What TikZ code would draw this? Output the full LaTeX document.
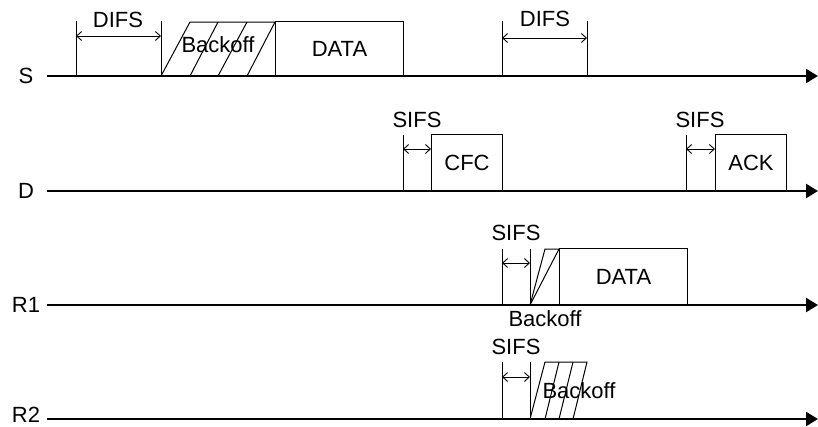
\documentclass[tikz,border=0pt]{standalone}
\usepackage{fontspec}
\setmainfont{Liberation Sans}
\usetikzlibrary{
  arrows.meta,
  positioning,
  calc
}
\definecolor{tdInk}{HTML}{000000}
\tikzset{
  tdtext/.style={font=\fontsize{22}{26}\selectfont, inner sep=0pt, text=tdInk},
  station/.style={tdtext},
  frame/.style={tdtext, draw=tdInk, line width=1pt, anchor=south west},
  timeaxis/.style={draw=tdInk, line width=2.4pt, -{Triangle[length=12pt, width=14pt]}},
  guide/.style={draw=tdInk, line width=1pt},
  span/.style={draw=tdInk, line width=0.9pt,
    {Straight Barb[length=5pt, width=9pt]}-{Straight Barb[length=5pt, width=9pt]}},
  hatch/.style={draw=tdInk, line width=1pt}
}

\begin{document}
\begin{tikzpicture}[x=1pt, y=-1pt]
  \useasboundingbox (0,0) rectangle (818,426);

  % stations and time axes
  \foreach \name/\y/\ly in {S/76/76, D/191/191, R1/305/305, R2/419/415} {
    \node[station] (\name) at (26,\ly) {\name};
    \coordinate (\name-in) at (47,\y);
    \coordinate (\name-out) at (818,\y);
    \draw[timeaxis] (\name-in) -- (\name-out);
  }

  % S: DIFS, backoff, DATA, DIFS
  \coordinate (difs1a) at (76,76);
  \coordinate (difs1b) at (161,76);
  \draw[guide] (difs1a) -- ++(0,-55);
  \draw[guide] (difs1b) -- ++(0,-55);
  \draw[span] ($(difs1a)+(0,-40)$) -- ($(difs1b)+(0,-40)$);
  \node[tdtext] (difs1) at (118,20) {DIFS};

  \draw[hatch] (difs1b) -- (190,22) -- (275,22);
  \draw[hatch] (190,76) -- (218,22);
  \draw[hatch] (218,76) -- (247,22);
  \draw[hatch] (247,76) -- (275,22);
  \node[tdtext] (backS) at (218,45) {Backoff};
  \node[frame, minimum width=128pt, minimum height=54pt] (dataS) at (275,76) {DATA};

  \coordinate (difs2a) at (502,76);
  \coordinate (difs2b) at (587,76);
  \draw[guide] (difs2a) -- ++(0,-55);
  \draw[guide] (difs2b) -- ++(0,-55);
  \draw[span] ($(difs2a)+(0,-38)$) -- ($(difs2b)+(0,-38)$);
  \node[tdtext] (difs2) at (545,19) {DIFS};

  % D: SIFS, CFC, SIFS, ACK
  \coordinate (sifs1a) at (403,191);
  \coordinate (sifs1b) at (431,191);
  \draw[guide] (sifs1a) -- ++(0,-56);
  \draw[guide] (sifs1b) -- ++(0,-56);
  \draw[span] ($(sifs1a)+(0,-42)$) -- ($(sifs1b)+(0,-42)$);
  \node[tdtext] (sifs1) at (417,120) {SIFS};
  \node[frame, minimum width=71pt, minimum height=56pt] (cfc) at (sifs1b) {CFC};

  \coordinate (sifs2a) at (686,191);
  \coordinate (sifs2b) at (715,191);
  \draw[guide] (sifs2a) -- ++(0,-56);
  \draw[guide] (sifs2b) -- ++(0,-56);
  \draw[span] ($(sifs2a)+(0,-42)$) -- ($(sifs2b)+(0,-42)$);
  \node[tdtext] (sifs2) at (700,120) {SIFS};
  \node[frame, minimum width=71pt, minimum height=56pt] (ack) at (sifs2b) {ACK};

  % R1: SIFS, backoff, DATA
  \coordinate (sifs3a) at (502,305);
  \coordinate (sifs3b) at (530,305);
  \draw[guide] (sifs3a) -- ++(0,-56);
  \draw[guide] (sifs3b) -- ++(0,-56);
  \draw[span] ($(sifs3a)+(0,-42)$) -- ($(sifs3b)+(0,-42)$);
  \node[tdtext] (sifs3) at (516,233) {SIFS};
  \draw[hatch] (sifs3b) -- (545,249) -- (559,249);
  \draw[hatch] (sifs3b) -- (559,249);
  \node[frame, minimum width=128pt, minimum height=56pt] (dataR) at (559,305) {DATA};
  \node[tdtext] (backR1) at (545,319) {Backoff};

  % R2: SIFS, backoff
  \coordinate (sifs4a) at (502,419);
  \coordinate (sifs4b) at (530,419);
  \draw[guide] (sifs4a) -- ++(0,-57);
  \draw[guide] (sifs4b) -- ++(0,-57);
  \draw[span] ($(sifs4a)+(0,-42)$) -- ($(sifs4b)+(0,-42)$);
  \node[tdtext] (sifs4) at (516,347) {SIFS};
  \draw[hatch] (sifs4b) -- (545,362) -- (587,362) -- (573,419);
  \draw[hatch] (545,419) -- (559,362);
  \draw[hatch] (559,419) -- (573,362);
  \node[tdtext] (backR2) at (579,391) {Backoff};
\end{tikzpicture}
\end{document}
